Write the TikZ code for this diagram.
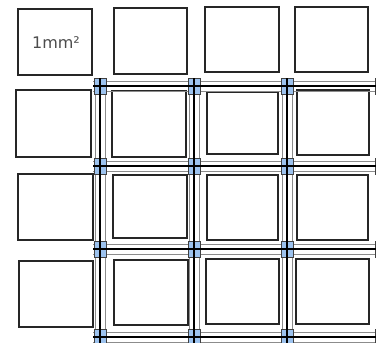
\documentclass[tikz,border=0pt]{standalone}
\usepackage{fontspec}
\newfontfamily\labelfont{DejaVu Sans}
\definecolor{handle}{HTML}{9CC2EE}
\begin{document}
\begin{tikzpicture}[x=1pt,y=-1pt,
  sq/.style={draw=black!85,line width=1.2pt},
  gridline/.style={draw=black,line width=1.3pt},
  guide/.style={draw=black!45,line width=0.7pt},
  handlebox/.style={draw=black!75,fill=handle,line width=0.8pt,minimum width=12pt,minimum height=16pt,inner sep=0pt,rectangle}]
\useasboundingbox (0,0) rectangle (376,343);
% squares, row 0
\draw[sq] (18,9) rectangle (92,75);
\draw[sq] (114,8) rectangle (187,74);
\draw[sq] (205,7) rectangle (279,72);
\draw[sq] (295,7) rectangle (368,72);
% row 1
\draw[sq] (16,90) rectangle (91,157);
\draw[sq] (112,91) rectangle (186,157);
\draw[sq] (207,92) rectangle (278,154);
\draw[sq] (297,90) rectangle (369,155);
% row 2
\draw[sq] (18,174) rectangle (93,240);
\draw[sq] (113,175) rectangle (187,238);
\draw[sq] (207,175) rectangle (278,240);
\draw[sq] (297,175) rectangle (368,240);
% row 3
\draw[sq] (19,261) rectangle (93,327);
\draw[sq] (114,260) rectangle (188,325);
\draw[sq] (206,259) rectangle (279,324);
\draw[sq] (296,259) rectangle (369,324);
% label
\node[text=black!70,font=\labelfont\fontsize{16}{16}\selectfont,inner sep=0pt] (lbl) at (56,43) {1mm²};
% guide lines
\foreach \v in {100,194,287}{
  \draw[guide] (\v-5,78) -- (\v-5,343);
  \draw[guide] (\v+5,78) -- (\v+5,343);
}
\foreach \h in {86,166,249,337}{
  \draw[guide] (93,\h-5) -- (376,\h-5);
  \draw[guide] (93,\h+5) -- (376,\h+5);
}
% handles
\foreach \v [count=\i] in {100,194,287,381}{
  \foreach \h [count=\j] in {86,166,249,337}{
    \node[handlebox] (h\i\j) at (\v,\h) {};
  }
}
% grid lines
\foreach \v in {100,194,287}{
  \draw[gridline] (\v,78) -- (\v,343);
}
\foreach \h in {86,166,249,337}{
  \draw[gridline] (93,\h) -- (376,\h);
}
\end{tikzpicture}
\end{document}
